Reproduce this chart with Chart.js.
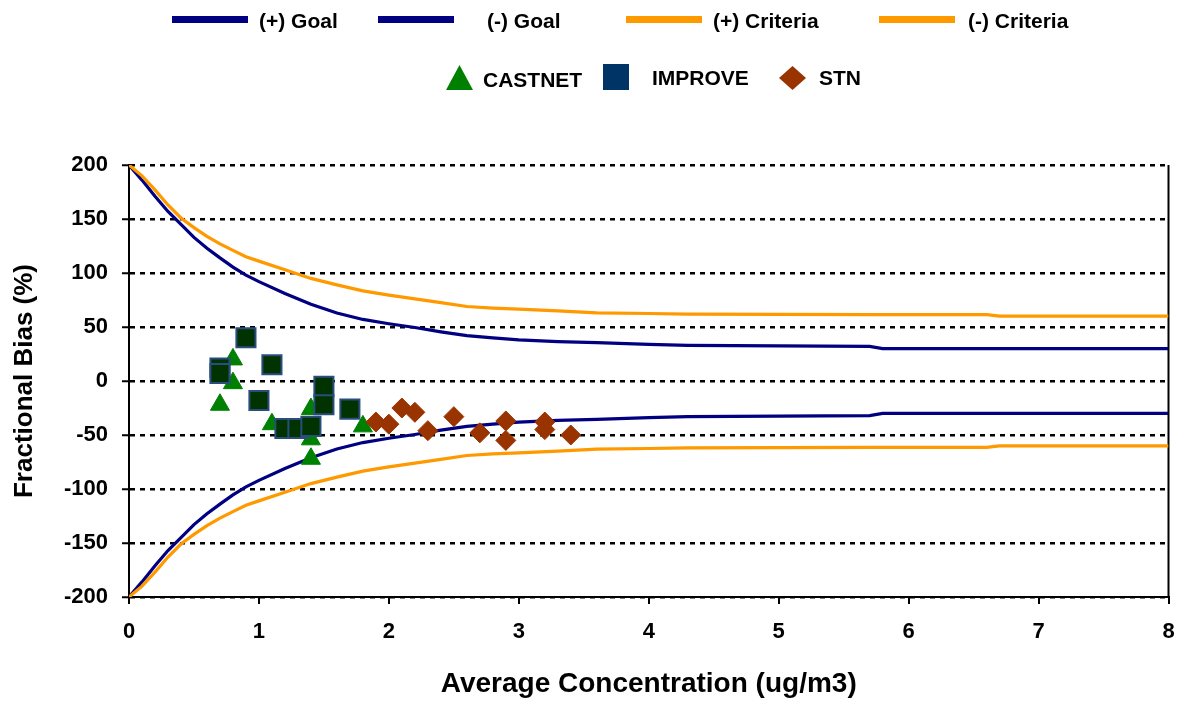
<!DOCTYPE html>
<html>
<head>
<meta charset="utf-8">
<script src="https://cdn.jsdelivr.net/npm/chart.js@4.4.1/dist/chart.umd.min.js"></script>
<style>
html,body{margin:0;padding:0;background:#fff;}
#wrap{position:relative;width:1179px;height:703px;overflow:hidden;}
#c{position:absolute;left:0;top:0;}
.lg{position:absolute;font:bold 21px "Liberation Sans",Arial,sans-serif;color:#000;white-space:nowrap;line-height:21px;}
.sw{position:absolute;height:7px;}
svg.mk{position:absolute;overflow:visible;}
</style>
</head>
<body>
<div id="wrap">
<canvas id="c" width="1184" height="703"></canvas>
</div>
<script>
// ---------- DATA ----------
const concX     = [0,0.1,0.2,0.3,0.4,0.5,0.6,0.7,0.8,0.9,1.0,1.2,1.4,1.6,1.8,2.0,2.2,2.4,2.6,2.8,3.0,3.3,3.6,4.0,4.3,5.7,5.8,6.6,6.7,8.0];
const goalPlus  = [200,186,171,157,145,133,123,114,105.5,98,92,81,71,63,57,53,49.5,45.5,42,40,38,36.5,35.5,34,33,32,30,30,30,30];
const goalMinus = [-200,-186,-171,-157,-145,-133,-123,-114,-105.5,-98,-92,-81,-71,-63,-57,-53,-49.5,-45.5,-42,-40,-38,-36.5,-35.5,-34,-33,-32,-30,-30,-30,-30];
const critPlus  = [200,190,177,163,151,142,134,127,121,115,111,103,95,89,83.5,79.5,76,72.5,69,67.5,66.5,65,63,62.5,62,61.5,61.5,61.5,60,60];
const critMinus = [-200,-190,-177,-163,-151,-142,-134,-127,-121,-115,-111,-103,-95,-89,-83.5,-79.5,-76,-72.5,-69,-67.5,-66.5,-65,-63,-62.5,-62,-61.5,-61.5,-61.5,-60,-60];

const castnetX = [0.7,0.8,0.8,1.1,1.4,1.4,1.4,1.8];
const castnetY = [-22,20,-2,-40,-26,-54,-72,-42];
const improveX = [0.7,0.7,0.9,1.1,1.0,1.5,1.5,1.7,1.2,1.3,1.4];
const improveY = [12,7,40,15,-18,-5,-22,-26,-44,-44,-42];
const stnX     = [1.9,2.0,2.1,2.2,2.3,2.5,2.7,2.9,2.9,3.2,3.2,3.4];
const stnY     = [-38,-40,-25,-29,-46,-33,-48,-37,-55,-38,-45,-50];

const xTicks = [0,1,2,3,4,5,6,7,8];
const yTicks = [-200,-150,-100,-50,0,50,100,150,200];

const lineLabels  = ['(+) Goal','(-) Goal','(+) Criteria','(-) Criteria'];
const pointLabels = ['CASTNET','IMPROVE','STN'];
const xTitle = 'Average Concentration (ug/m3)';
const yTitle = 'Fractional Bias (%)';

// ---------- STYLE ----------
const NAVY = '#000080', ORANGE = '#FF9900';
const FONT = '"Liberation Sans", Arial, sans-serif';
Chart.defaults.font.family = FONT;
Chart.defaults.color = '#000';

const pts = (xs, ys) => xs.map((x, i) => ({x: x, y: ys[i]}));
const lineDs = (label, ys, color, order) => ({
  type: 'line', label: label, data: pts(concX, ys),
  borderColor: color, backgroundColor: color, borderWidth: 3.2,
  pointRadius: 0, pointHoverRadius: 0, fill: false, tension: 0, order: order
});

const datasets = [
  {type:'scatter', label: pointLabels[0], data: pts(castnetX, castnetY), pointStyle:'triangle',
   pointRadius:11, backgroundColor:'#008000', borderColor:'#008000', borderWidth:1, order:3},
  {type:'scatter', label: pointLabels[1], data: pts(improveX, improveY), pointStyle:'rect',
   pointRadius:13.5, backgroundColor:'#003300', borderColor:'#2a4d80', borderWidth:2, order:2},
  {type:'scatter', label: pointLabels[2], data: pts(stnX, stnY), pointStyle:'rectRot',
   pointRadius:10, backgroundColor:'#993300', borderColor:'#993300', borderWidth:1, order:1},
  lineDs(lineLabels[0], goalPlus, NAVY, 6),
  lineDs(lineLabels[1], goalMinus, NAVY, 6),
  lineDs(lineLabels[2], critPlus, ORANGE, 5),
  lineDs(lineLabels[3], critMinus, ORANGE, 5)
];

const rightBorder = {
  id: 'rightBorder',
  beforeDatasetsDraw(chart) {
    const a = chart.chartArea, ctx = chart.ctx;
    ctx.save();
    ctx.strokeStyle = '#000'; ctx.lineWidth = 2;
    ctx.beginPath(); ctx.moveTo(a.right, a.top); ctx.lineTo(a.right, a.bottom); ctx.stroke();
    ctx.restore();
  }
};

new Chart(document.getElementById('c'), {
  data: { datasets: datasets },
  options: {
    responsive: false, animation: false, events: [],
    layout: { padding: { left: 0, right: 0, top: 165, bottom: 0 } },
    plugins: { legend: { display: false }, tooltip: { enabled: false } },
    scales: {
      x: {
        type: 'linear', min: 0, max: 8,
        afterFit: s => { s.height = 106; },
        afterBuildTicks: s => { s.ticks = xTicks.map(v => ({value: v})); },
        ticks: { font: { size: 22, weight: 'bold', lineHeight: 2.36 }, padding: 2, color: '#000' },
        grid: { drawOnChartArea: false, drawTicks: true, tickLength: 7, color: '#000', lineWidth: 2 },
        border: { display: true, color: '#000', width: 2 },
        title: { display: true, text: xTitle, font: { size: 28, weight: 'bold' }, color: '#000', padding: { top: 0, bottom: 2 } }
      },
      y: {
        type: 'linear', min: -200, max: 200,
        afterFit: s => { s.width = 129; },
        afterBuildTicks: s => { s.ticks = yTicks.map(v => ({value: v})); },
        ticks: { font: { size: 22, weight: 'bold' }, padding: 14, color: '#000' },
        grid: { drawOnChartArea: true, drawTicks: true, tickLength: 7, color: '#000', lineWidth: 2.5,
                tickWidth: 2, tickColor: '#000', tickBorderDash: [] },
        border: { display: true, color: '#000', width: 2, dash: [5, 5] },
        title: { display: true, text: yTitle, font: { size: 26, weight: 'bold' }, color: '#000', padding: { top: 9, bottom: 0 } }
      }
    }
  },
  plugins: [rightBorder]
});

// ---------- HTML legend (two rows, as in the reference) ----------
const wrap = document.getElementById('wrap');
function addDiv(cls, css, text) {
  const d = document.createElement('div'); d.className = cls; d.style.cssText = css;
  if (text !== undefined) d.textContent = text; wrap.appendChild(d);
}
const lineColors = [NAVY, NAVY, ORANGE, ORANGE];
const swatchLeft = [172, 378, 626, 879];
const textLeft   = [259, 487, 713, 968];
lineLabels.forEach((lab, i) => {
  addDiv('sw', `left:${swatchLeft[i]}px;top:16px;width:76px;background:${lineColors[i]};`);
  addDiv('lg', `left:${textLeft[i]}px;top:10px;`, lab);
});
function addSvg(left, top, w, h, inner) {
  const ns = 'http://www.w3.org/2000/svg';
  const s = document.createElementNS(ns, 'svg');
  s.setAttribute('class', 'mk'); s.setAttribute('width', w); s.setAttribute('height', h);
  s.style.left = left + 'px'; s.style.top = top + 'px';
  s.innerHTML = inner; wrap.appendChild(s);
}
addSvg(446, 65, 27, 25, '<polygon points="13.5,0 27,25 0,25" fill="#008000"/>');
addDiv('lg', 'left:483px;top:69px;', pointLabels[0]);
addSvg(603, 64, 26, 26, '<rect x="0" y="0" width="26" height="26" fill="#003366"/>');
addDiv('lg', 'left:652px;top:67px;', pointLabels[1]);
addSvg(779, 66, 27, 24, '<polygon points="13.5,0 27,12 13.5,24 0,12" fill="#993300"/>');
addDiv('lg', 'left:819px;top:67px;', pointLabels[2]);
</script>
</body>
</html>
